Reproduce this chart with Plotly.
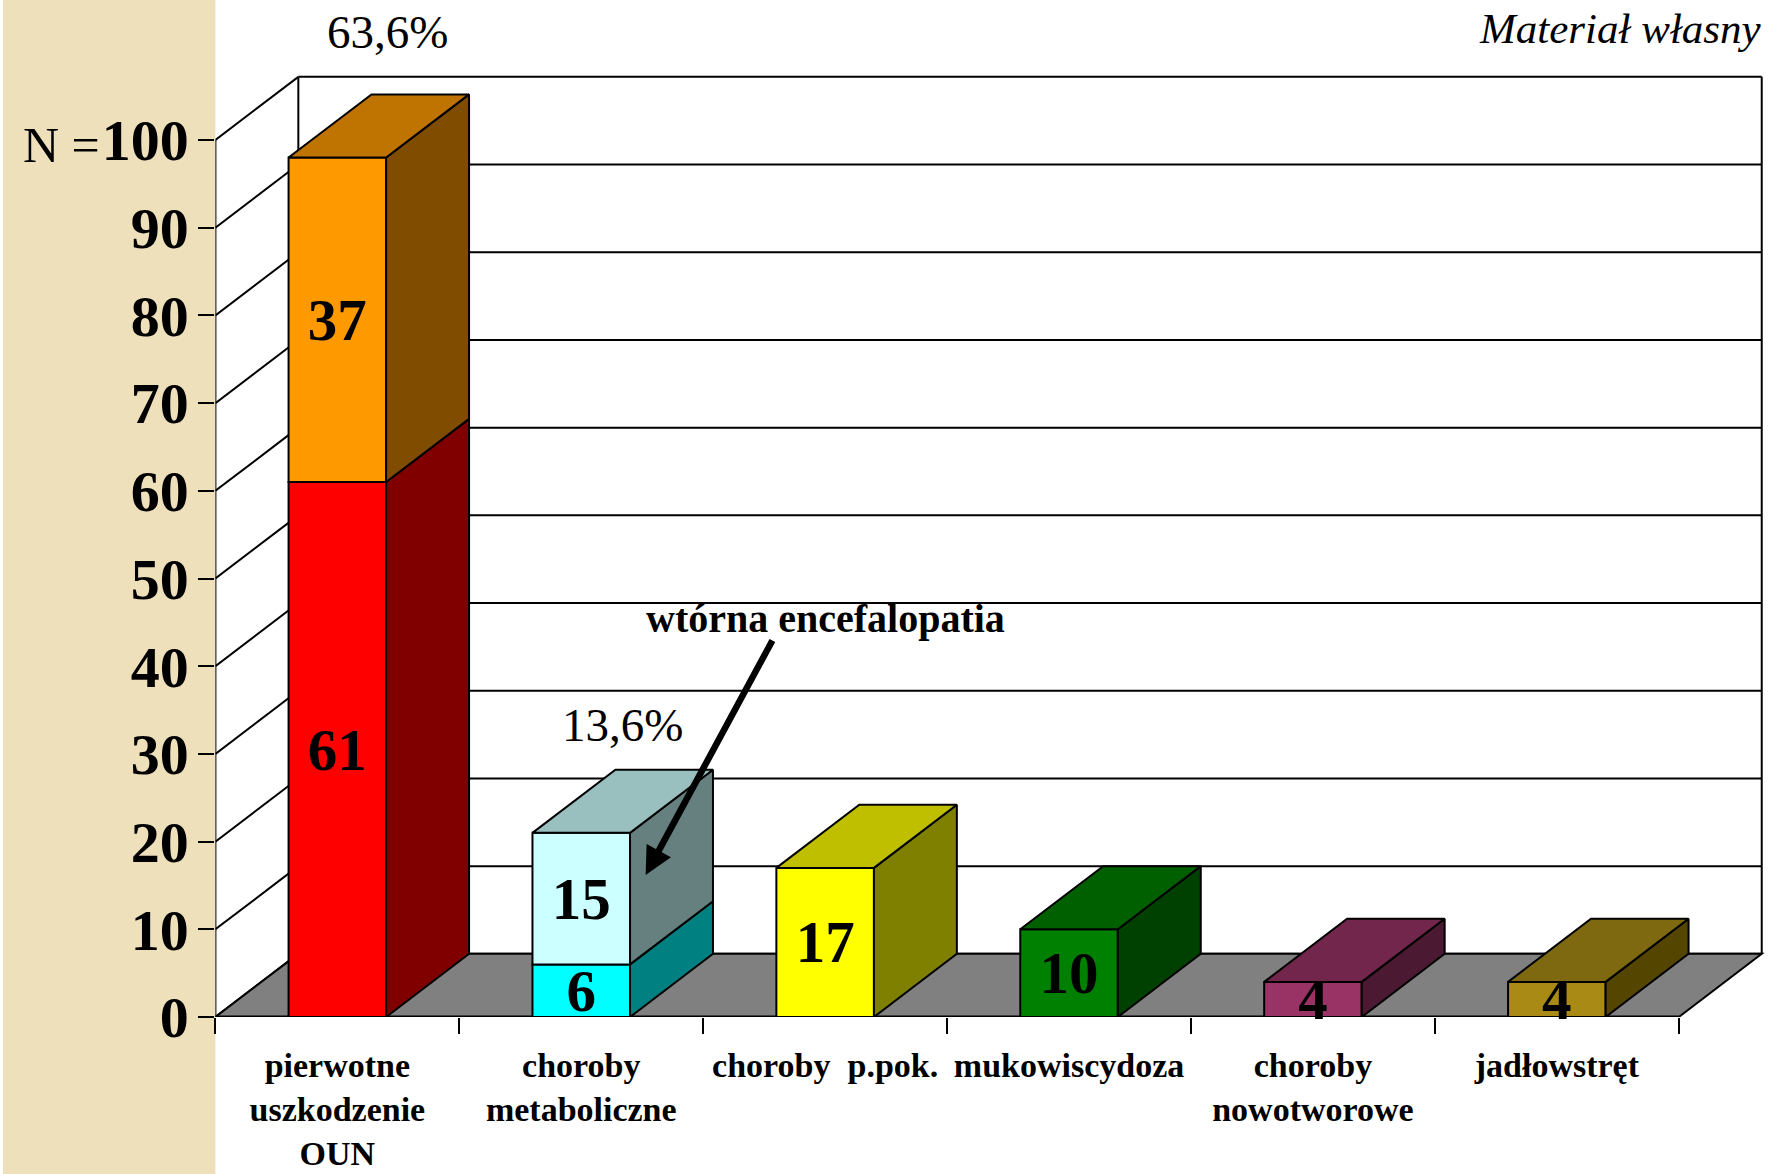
import plotly.graph_objects as go

# ---- data ----
categories = ["pierwotne<br>uszkodzenie<br>OUN", "choroby<br>metaboliczne", "choroby  p.pok.",
              "mukowiscydoza", "choroby<br>nowotworowe", "jadłowstręt"]
lower_values = [61, 6, 17, 10, 4, 4]
upper_values = [37, 15, 0, 0, 0, 0]
y_ticks = list(range(0, 101, 10))

# ---- colours ----
lower_front = ["#FF0000", "#00FFFF", "#FFFF00", "#008000", "#993366", "#A88A15"]
lower_side = ["#800000", "#008080", "#808000", "#004000", "#4C1933", "#544500"]
lower_top = ["#BF0000", "#00BFBF", "#BFBF00", "#006000", "#73264C", "#7E6810"]
upper_front = ["#FF9900", "#CCFFFF"]
upper_side = ["#804C00", "#668080"]
upper_top = ["#BF7300", "#99BFBF"]

# ---- geometry of the pseudo-3D frame ----
W, H = 1768, 1174
X0_PX, Y0_PX = 215.4, 1017.0
PX_PER_CAT, PX_PER_N = 243.9, 8.77
DX, DY = 0.34, 7.2
BAR_W = 0.4
N_CAT = len(categories)
LINE = dict(color="black", width=2)
SERIF = "Liberation Serif"
centers = [i + 0.5 for i in range(N_CAT)]

fig = go.Figure()


def poly(xs, ys, fill):
    fig.add_trace(go.Scatter(x=xs + xs[:1], y=ys + ys[:1], mode="lines", fill="toself",
                             fillcolor=fill, line=LINE, hoverinfo="skip", showlegend=False))


def box(center, base, value, side, top, draw_top):
    x1 = center + BAR_W / 2
    x0 = center - BAR_W / 2
    t = base + value
    poly([x1, x1 + DX, x1 + DX, x1], [base, base + DY, t + DY, t], side)
    if draw_top:
        poly([x0, x0 + DX, x1 + DX, x1], [t, t + DY, t + DY, t], top)


BAR_FONT = dict(family=SERIF, size=59, color="black", weight="bold")

# front faces: real bars
fig.add_trace(go.Bar(x=centers, y=lower_values, width=BAR_W, marker=dict(color=lower_front, line=LINE),
                     text=[str(v) for v in lower_values], textposition="inside", insidetextanchor="middle",
                     constraintext="none", textangle=0, cliponaxis=False, textfont=BAR_FONT,
                     showlegend=False, hoverinfo="x+y"))
up_idx = [i for i, v in enumerate(upper_values) if v > 0]
fig.add_trace(go.Bar(x=[centers[i] for i in up_idx], y=[upper_values[i] for i in up_idx], width=BAR_W,
                     base=[lower_values[i] for i in up_idx],
                     marker=dict(color=upper_front, line=LINE),
                     text=[str(upper_values[i]) for i in up_idx], textposition="inside",
                     insidetextanchor="middle", constraintext="none", textangle=0, cliponaxis=False,
                     textfont=BAR_FONT, showlegend=False, hoverinfo="x+y"))

# side and top faces
for i, c in enumerate(centers):
    has_upper = upper_values[i] > 0
    box(c, 0, lower_values[i], lower_side[i], lower_top[i], not has_upper)
    if has_upper:
        k = up_idx.index(i)
        box(c, lower_values[i], upper_values[i], upper_side[k], upper_top[k], True)

# frame: walls, grid and floor
shapes = [
    dict(type="rect", xref="paper", yref="paper", x0=3 / W, x1=X0_PX / W, y0=0, y1=1,
         fillcolor="#EFE0BC", line=dict(width=0), layer="below"),
]
top = y_ticks[-1]
for v in y_ticks:
    shapes.append(dict(type="line", x0=0, y0=v, x1=DX, y1=v + DY, line=LINE, layer="below"))
    shapes.append(dict(type="line", x0=DX, y0=v + DY, x1=N_CAT + DX, y1=v + DY, line=LINE, layer="below"))
shapes += [
    dict(type="line", x0=0, y0=0, x1=0, y1=top, line=LINE, layer="below"),
    dict(type="line", x0=DX, y0=DY, x1=DX, y1=top + DY, line=LINE, layer="below"),
    dict(type="line", x0=N_CAT + DX, y0=DY, x1=N_CAT + DX, y1=top + DY, line=LINE, layer="below"),
    dict(type="path", path=f"M0,0 L{DX},{DY} L{N_CAT + DX},{DY} L{N_CAT},0 Z",
         fillcolor="#808080", line=LINE, layer="below"),
    dict(type="line", x0=0, y0=0, x1=N_CAT, y1=0, line=dict(color="black", width=3), layer="below"),
]


def note(text, x, y, size, bold=False, italic=False, anchor="center"):
    fig.add_annotation(x=x, y=y, text=f"<b>{text}</b>" if bold else (f"<i>{text}</i>" if italic else text),
                       showarrow=False, xanchor=anchor, yanchor="middle",
                       font=dict(family=SERIF, size=size, color="black"))


note("63,6%", 0.704, 112.3, 47)
note("13,6%", 1.671, 33.3, 47)
note("Materiał własny", 6.35, 112.7, 43, italic=True, anchor="right")
note("wtórna encefalopatia", 2.502, 45.4, 40, bold=True)
# the "N =" label sits left of the axis, so it is placed in paper coordinates
fig.add_annotation(xref="paper", yref="paper", x=61 / W, y=1 - 145 / H, text="N =", showarrow=False,
                   xanchor="center", yanchor="middle", font=dict(family=SERIF, size=50, color="black"))
fig.add_annotation(x=1.764, y=16.2, ax=2.287, ay=43.1, xref="x", yref="y", axref="x", ayref="y",
                   text="", showarrow=True, arrowhead=2, arrowsize=0.85, arrowwidth=6.5, arrowcolor="black")

fig.update_layout(
    width=W, height=H, autosize=False, margin=dict(l=0, r=0, t=0, b=0),
    paper_bgcolor="white", plot_bgcolor="rgba(0,0,0,0)", showlegend=False, barmode="overlay", shapes=shapes,
    xaxis=dict(domain=[X0_PX / W, 1], range=[0, (W - X0_PX) / PX_PER_CAT], tickmode="array",
               tickvals=centers, ticktext=categories, ticks="", showgrid=False, zeroline=False, showline=False,
               ticklabelstandoff=25, automargin=False,
               tickfont=dict(family=SERIF, size=34, color="black", weight="bold"),
               minor=dict(tickmode="array", tickvals=list(range(N_CAT + 1)), ticks="outside", ticklen=16,
                          tickwidth=2, tickcolor="black", showgrid=False)),
    yaxis=dict(domain=[(H - Y0_PX) / H, 1], range=[0, Y0_PX / PX_PER_N], tickmode="array", tickvals=y_ticks,
               ticks="outside", ticklen=16, tickwidth=2, tickcolor="black", showgrid=False, zeroline=False,
               showline=False, ticklabelstandoff=-2, automargin=False,
               tickfont=dict(family=SERIF, size=58, color="black", weight="bold")),
)

fig.write_html("out.html", config=dict(displayModeBar=False), post_script="document.body.style.margin='0';")
